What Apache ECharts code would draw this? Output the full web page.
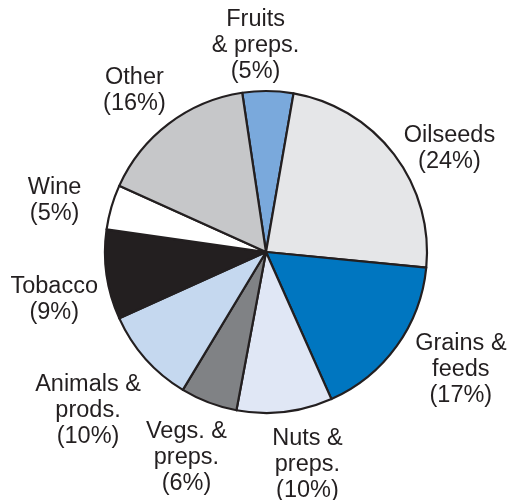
<!DOCTYPE html>
<html>
<head>
<meta charset="utf-8">
<script src="https://cdn.jsdelivr.net/npm/echarts@6/dist/echarts.min.js"></script>
<style>
  html, body { margin: 0; padding: 0; background: #fff; }
  #chart { width: 508px; height: 500px; }
</style>
</head>
<body>
<div id="chart"></div>
<script>
// categories, clockwise from the top
const categories = ['Fruits\n& preps.', 'Oilseeds', 'Grains &\nfeeds', 'Nuts &\npreps.', 'Vegs. &\npreps.',
  'Animals &\nprods.', 'Tobacco', 'Wine', 'Other']
// shares (percent)
const shares = [5.1, 23.8, 16.8, 9.6, 5.7, 9.6, 9.0, 4.5, 15.9]
// percent labels as printed
const pctLabels = ['5%', '24%', '17%', '10%', '6%', '10%', '9%', '5%', '16%']

const colors = ['#7aa9dc', '#e5e6e8', '#0076c0', '#e0e7f5', '#808285', '#c5d8ef', '#231f20', '#ffffff', '#c6c7c9']
// small nudges of the labels from their default spot
const labelOffsets = [[-13, 12], [10, 29], [18, -10], [16, -4], [-2, 2], [-15, 14], [4, 17], [-2, 9], [0, 12]]

let chart = echarts.init(document.getElementById('chart'), null, {renderer: 'canvas'})

let sliceData = categories.map((name, i) => ({
  name: name,
  value: shares[i],
  itemStyle: {color: colors[i]}
}))

// transparent ring, only to carry the labels
let labelData = categories.map((name, i) => ({
  name: name,
  value: shares[i],
  label: {
    formatter: name + '\n(' + pctLabels[i] + ')',
    offset: labelOffsets[i]
  }
}))

let option = {
  animation: false,
  textStyle: {fontFamily: '"Liberation Sans", Arial, sans-serif'},
  series: [
    {
      type: 'pie',
      center: [266, 252],
      radius: [0, 161],
      startAngle: 98.5,
      clockwise: true,
      silent: true,
      label: {show: false},
      labelLine: {show: false},
      itemStyle: {borderColor: '#231f20', borderWidth: 2.2},
      data: sliceData
    },
    {
      type: 'pie',
      center: [266, 252],
      radius: [190, 240],
      startAngle: 98.5,
      clockwise: true,
      silent: true,
      itemStyle: {color: 'rgba(0,0,0,0)', borderWidth: 0},
      labelLine: {show: false},
      label: {
        show: true,
        position: 'inside',
        rotate: 0,
        color: '#231f20',
        fontSize: 23.5,
        lineHeight: 26,
        align: 'center',
        fontFamily: '"Liberation Sans", Arial, sans-serif'
      },
      data: labelData
    }
  ]
}

chart.setOption(option)
</script>
</body>
</html>
